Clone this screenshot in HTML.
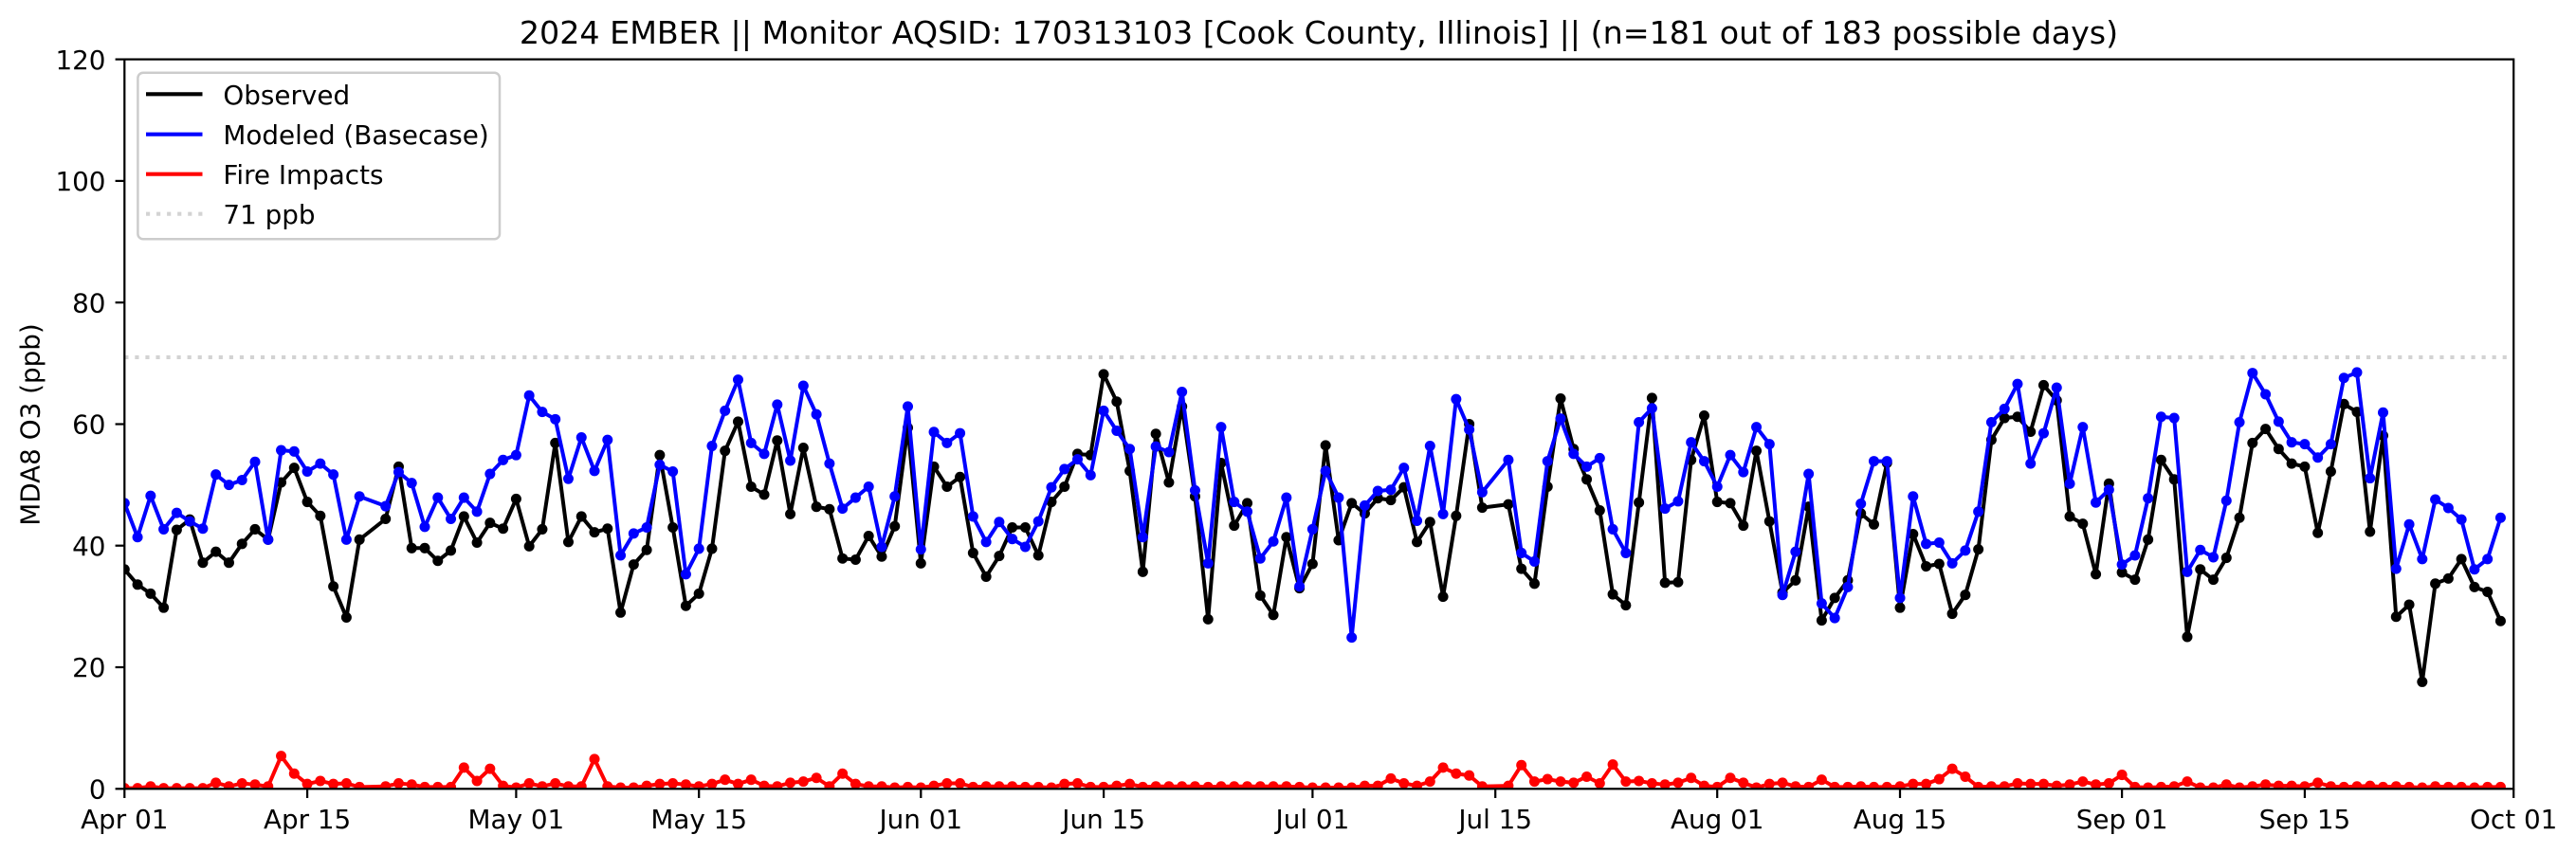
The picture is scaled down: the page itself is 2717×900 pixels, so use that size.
<!DOCTYPE html>
<html>
<head>
<meta charset="utf-8">
<style>
  html, body { margin: 0; padding: 0; background: #ffffff; }
  svg { display: block; }
  text { font-family: "DejaVu Sans", "Liberation Sans", sans-serif; fill: #000; }
</style>
</head>
<body>
<svg width="2717" height="900" viewBox="0 0 2717 900" xmlns="http://www.w3.org/2000/svg">
  <defs>
    <clipPath id="plotclip">
      <rect x="131.3" y="62.6" width="2519.9" height="769.7"/>
    </clipPath>
    <marker id="mk" markerUnits="userSpaceOnUse" markerWidth="1" markerHeight="1" refX="0" refY="0" overflow="visible" style="overflow:visible">
      <ellipse cx="0" cy="0" rx="0.40" ry="0.86" fill="#000000"/>
    </marker>
    <marker id="mb" markerUnits="userSpaceOnUse" markerWidth="1" markerHeight="1" refX="0" refY="0" overflow="visible" style="overflow:visible">
      <ellipse cx="0" cy="0" rx="0.40" ry="0.86" fill="#0000ff"/>
    </marker>
    <marker id="mr" markerUnits="userSpaceOnUse" markerWidth="1" markerHeight="1" refX="0" refY="0" overflow="visible" style="overflow:visible">
      <ellipse cx="0" cy="0" rx="0.40" ry="0.86" fill="#ff0000"/>
    </marker>
  </defs>

  <rect x="0" y="0" width="2717" height="900" fill="#ffffff"/>

  <!-- Title -->
  <text x="1391" y="46" font-size="33.3" text-anchor="middle">2024 EMBER || Monitor AQSID: 170313103 [Cook County, Illinois] || (n=181 out of 183 possible days)</text>

  <!-- plot contents -->
  <g clip-path="url(#plotclip)">
    <line x1="131.3" y1="376.9" x2="2651.2" y2="376.9" stroke="#d3d3d3" stroke-width="4.17" stroke-dasharray="4.17 6.88"/>
    <g transform="matrix(13.77 0 0 -6.414 131.3 832.3)">
      <polyline fill="none" stroke="#000000" stroke-width="4" vector-effect="non-scaling-stroke" stroke-linejoin="round"
        marker-start="url(#mk)" marker-mid="url(#mk)" marker-end="url(#mk)"
        points="0,36.1 1,33.6 2,32.1 3,29.8 4,42.6 5,44.3 6,37.2 7,39 8,37.2 9,40.3 10,42.7 11,41 12,50.4 13,52.8 14,47.2 15,44.9 16,33.3 17,28.2 18,41 20,44.4 21,53 22,39.6 23,39.6 24,37.5 25,39.2 26,44.8 27,40.5 28,43.75 29,42.8 30,47.7 31,39.9 32,42.7 33,56.9 34,40.6 35,44.8 36,42.2 37,42.8 38,29 39,36.9 40,39.3 41,54.9 42,43 43,30.1 44,32.1 45,39.5 46,55.6 47,60.4 48,49.7 49,48.4 50,57.3 51,45.2 52,56.1 53,46.4 54,46 55,37.9 56,37.7 57,41.6 58,38.2 59,43.2 60,59.4 61,37.1 62,53 63,49.7 64,51.3 65,38.8 66,34.9 67,38.3 68,43 69,43 70,38.4 71,47.2 72,49.7 73,55.1 74,54.9 75,68.2 76,63.7 77,52.3 78,35.7 79,58.4 80,50.4 81,62.9 82,48.1 83,27.9 84,53.6 85,43.3 86,47 87,31.8 88,28.6 89,41.4 90,33 91,37 92,56.5 93,40.9 94,47 95,45.3 96,47.8 97,47.5 98,49.6 99,40.6 100,43.9 101,31.6 102,44.9 103,60 104,46.25 106,46.8 107,36.2 108,33.75 109,49.7 110,64.2 111,55.9 112,50.9 113,45.8 114,32 115,30.2 116,47.1 117,64.3 118,33.9 119,34 120,54.1 121,61.4 122,47.2 123,47 124,43.3 125,55.6 126,44 127,32.3 128,34.3 129,46.4 130,27.7 131,31.4 132,34.3 133,45.3 134,43.5 135,53.6 136,29.8 137,41.9 138,36.6 139,37 140,28.8 141,31.9 142,39.4 143,57.4 144,61 145,61.2 146,58.75 147,66.4 148,63.9 149,44.8 150,43.6 151,35.3 152,50.2 153,35.6 154,34.4 155,41 156,54.1 157,50.9 158,25 159,36.1 160,34.4 161,38 162,44.6 163,56.9 164,59.2 165,55.9 166,53.5 167,53 168,42.1 169,52.2 170,63.3 171,62 172,42.3 173,58.1 174,28.3 175,30.3 176,17.6 177,33.75 178,34.6 179,37.8 180,33.2 181,32.4 182,27.6"/>
      <polyline fill="none" stroke="#0000ff" stroke-width="4" vector-effect="non-scaling-stroke" stroke-linejoin="round"
        marker-start="url(#mb)" marker-mid="url(#mb)" marker-end="url(#mb)"
        points="0,47 1,41.4 2,48.2 3,42.7 4,45.4 5,44 6,42.8 7,51.7 8,50 9,50.8 10,53.8 11,41 12,55.7 13,55.5 14,52.2 15,53.5 16,51.7 17,41 18,48.1 20,46.5 21,52.1 22,50.3 23,43.1 24,47.9 25,44.4 26,47.9 27,45.6 28,51.8 29,54.1 30,54.9 31,64.7 32,62 33,60.8 34,51 35,57.8 36,52.3 37,57.4 38,38.4 39,42 40,43 41,53.3 42,52.2 43,35.3 44,39.5 45,56.4 46,62.2 47,67.3 48,56.9 49,55.1 50,63.2 51,54 52,66.3 53,61.6 54,53.5 55,46.1 56,47.9 57,49.7 58,39.8 59,48.1 60,62.9 61,39.4 62,58.7 63,56.9 64,58.5 65,44.8 66,40.6 67,43.9 68,41.1 69,39.8 70,44 71,49.6 72,52.6 73,54.2 74,51.6 75,62.2 76,58.9 77,55.9 78,41.4 79,56.3 80,55.4 81,65.3 82,49.1 83,37.1 84,59.5 85,47.2 86,45.6 87,37.9 88,40.7 89,47.9 90,33.3 91,42.7 92,52.3 93,47.9 94,24.9 95,46.6 96,49 97,49.2 98,52.8 99,44.1 100,56.4 101,45.2 102,64.1 103,59.1 104,48.8 106,54.1 107,38.8 108,37.4 109,53.9 110,60.9 111,55.1 112,53 113,54.4 114,42.7 115,38.8 116,60.3 117,62.6 118,46.1 119,47.3 120,57 121,53.9 122,49.7 123,54.9 124,52.1 125,59.5 126,56.7 127,31.9 128,39 129,51.8 130,30.5 131,28.1 132,33.2 133,46.9 134,53.9 135,53.9 136,31.4 137,48.1 138,40.3 139,40.5 140,37.1 141,39.2 142,45.6 143,60.3 144,62.5 145,66.6 146,53.5 147,58.5 148,66 149,50.2 150,59.5 151,47.1 152,49.2 153,36.9 154,38.4 155,47.8 156,61.2 157,61 158,35.7 159,39.3 160,38.1 161,47.4 162,60.3 163,68.4 164,64.9 165,60.4 166,57 167,56.7 168,54.5 169,56.7 170,67.6 171,68.5 172,51.1 173,61.9 174,36.2 175,43.5 176,37.8 177,47.6 178,46.2 179,44.3 180,36.1 181,37.8 182,44.6"/>
      <polyline fill="none" stroke="#ff0000" stroke-width="4" vector-effect="non-scaling-stroke" stroke-linejoin="round"
        marker-start="url(#mr)" marker-mid="url(#mr)" marker-end="url(#mr)"
        points="0,0.1 1,0.1 2,0.4 3,0.1 4,0.1 5,0.1 6,0.1 7,1 8,0.4 9,0.9 10,0.7 11,0.4 12,5.4 13,2.5 14,0.8 15,1.3 16,0.8 17,0.9 18,0.3 20,0.4 21,0.9 22,0.7 23,0.3 24,0.3 25,0.3 26,3.5 27,1.3 28,3.3 29,0.5 30,0.2 31,0.9 32,0.4 33,0.9 34,0.4 35,0.4 36,4.9 37,0.4 38,0.2 39,0.2 40,0.5 41,0.8 42,0.9 43,0.7 44,0.4 45,0.8 46,1.5 47,0.8 48,1.5 49,0.5 50,0.4 51,1 52,1.2 53,1.8 54,0.4 55,2.5 56,0.8 57,0.4 58,0.4 59,0.2 60,0.3 61,0.2 62,0.5 63,0.9 64,0.9 65,0.3 66,0.4 67,0.4 68,0.4 69,0.3 70,0.3 71,0.2 72,0.8 73,0.9 74,0.3 75,0.3 76,0.5 77,0.8 78,0.3 79,0.4 80,0.4 81,0.4 82,0.4 83,0.3 84,0.4 85,0.4 86,0.4 87,0.4 88,0.4 89,0.4 90,0.3 91,0.2 92,0.2 93,0.2 94,0.2 95,0.5 96,0.5 97,1.7 98,0.9 99,0.5 100,1.2 101,3.5 102,2.5 103,2.2 104,0.4 106,0.5 107,3.9 108,1.2 109,1.6 110,1.2 111,1 112,2 113,0.9 114,4 115,1.2 116,1.3 117,0.9 118,0.7 119,1 120,1.8 121,0.5 122,0.3 123,1.8 124,1 125,0.2 126,0.8 127,1 128,0.4 129,0.3 130,1.5 131,0.3 132,0.3 133,0.4 134,0.3 135,0.3 136,0.4 137,0.8 138,0.8 139,1.6 140,3.3 141,2 142,0.3 143,0.4 144,0.4 145,0.9 146,0.8 147,0.8 148,0.5 149,0.7 150,1.2 151,0.7 152,0.9 153,2.3 154,0.3 155,0.2 156,0.3 157,0.4 158,1.2 159,0.2 160,0.2 161,0.7 162,0.2 163,0.4 164,0.7 165,0.5 166,0.5 167,0.4 168,1 169,0.4 170,0.3 171,0.4 172,0.5 173,0.3 174,0.4 175,0.3 176,0.2 177,0.4 178,0.3 179,0.3 180,0.2 181,0.3 182,0.3"/>
    </g>
  </g>

  <!-- spines -->
  <rect x="131.3" y="62.6" width="2519.9" height="769.7" fill="none" stroke="#000000" stroke-width="2.22"/>

  <!-- x ticks -->
  <g stroke="#000000" stroke-width="2.22">
    <line x1="131.3" y1="832.3" x2="131.3" y2="842.0"/>
    <line x1="324.1" y1="832.3" x2="324.1" y2="842.0"/>
    <line x1="544.4" y1="832.3" x2="544.4" y2="842.0"/>
    <line x1="737.2" y1="832.3" x2="737.2" y2="842.0"/>
    <line x1="971.3" y1="832.3" x2="971.3" y2="842.0"/>
    <line x1="1164.1" y1="832.3" x2="1164.1" y2="842.0"/>
    <line x1="1384.4" y1="832.3" x2="1384.4" y2="842.0"/>
    <line x1="1577.2" y1="832.3" x2="1577.2" y2="842.0"/>
    <line x1="1811.2" y1="832.3" x2="1811.2" y2="842.0"/>
    <line x1="2004.0" y1="832.3" x2="2004.0" y2="842.0"/>
    <line x1="2238.1" y1="832.3" x2="2238.1" y2="842.0"/>
    <line x1="2430.9" y1="832.3" x2="2430.9" y2="842.0"/>
    <line x1="2651.2" y1="832.3" x2="2651.2" y2="842.0"/>
  </g>
  <g font-size="27.8" text-anchor="middle">
    <text x="131.3" y="874">Apr 01</text>
    <text x="324.1" y="874">Apr 15</text>
    <text x="544.4" y="874">May 01</text>
    <text x="737.2" y="874">May 15</text>
    <text x="971.3" y="874">Jun 01</text>
    <text x="1164.1" y="874">Jun 15</text>
    <text x="1384.4" y="874">Jul 01</text>
    <text x="1577.2" y="874">Jul 15</text>
    <text x="1811.2" y="874">Aug 01</text>
    <text x="2004.0" y="874">Aug 15</text>
    <text x="2238.1" y="874">Sep 01</text>
    <text x="2430.9" y="874">Sep 15</text>
    <text x="2651.2" y="874">Oct 01</text>
  </g>

  <!-- y ticks -->
  <g stroke="#000000" stroke-width="2.22">
    <line x1="121.6" y1="832.3" x2="131.3" y2="832.3"/>
    <line x1="121.6" y1="704.0" x2="131.3" y2="704.0"/>
    <line x1="121.6" y1="575.7" x2="131.3" y2="575.7"/>
    <line x1="121.6" y1="447.5" x2="131.3" y2="447.5"/>
    <line x1="121.6" y1="319.2" x2="131.3" y2="319.2"/>
    <line x1="121.6" y1="190.9" x2="131.3" y2="190.9"/>
    <line x1="121.6" y1="62.6" x2="131.3" y2="62.6"/>
  </g>
  <g font-size="27.8" text-anchor="end">
    <text x="111.5" y="842.5">0</text>
    <text x="111.5" y="714.2">20</text>
    <text x="111.5" y="585.9">40</text>
    <text x="111.5" y="457.7">60</text>
    <text x="111.5" y="329.4">80</text>
    <text x="111.5" y="201.1">100</text>
    <text x="111.5" y="72.8">120</text>
  </g>

  <!-- y label -->
  <text transform="translate(41.7,448) rotate(-90)" font-size="27.8" text-anchor="middle">MDA8 O3 (ppb)</text>

  <!-- legend -->
  <rect x="145.4" y="76.7" width="381.6" height="175.6" rx="5.6" ry="5.6" fill="#ffffff" fill-opacity="0.8" stroke="#cccccc" stroke-width="2.5"/>
  <line x1="154" y1="99.3" x2="213.5" y2="99.3" stroke="#000000" stroke-width="4.17"/>
  <line x1="154" y1="141.7" x2="213.5" y2="141.7" stroke="#0000ff" stroke-width="4.17"/>
  <line x1="154" y1="183.7" x2="213.5" y2="183.7" stroke="#ff0000" stroke-width="4.17"/>
  <line x1="154" y1="225.7" x2="213.5" y2="225.7" stroke="#d3d3d3" stroke-width="4.17" stroke-dasharray="4.17 6.88"/>
  <g font-size="27.8">
    <text x="235.4" y="109.8">Observed</text>
    <text x="235.4" y="152.2">Modeled (Basecase)</text>
    <text x="235.4" y="194.2">Fire Impacts</text>
    <text x="235.4" y="236.2">71 ppb</text>
  </g>
</svg>
</body>
</html>
